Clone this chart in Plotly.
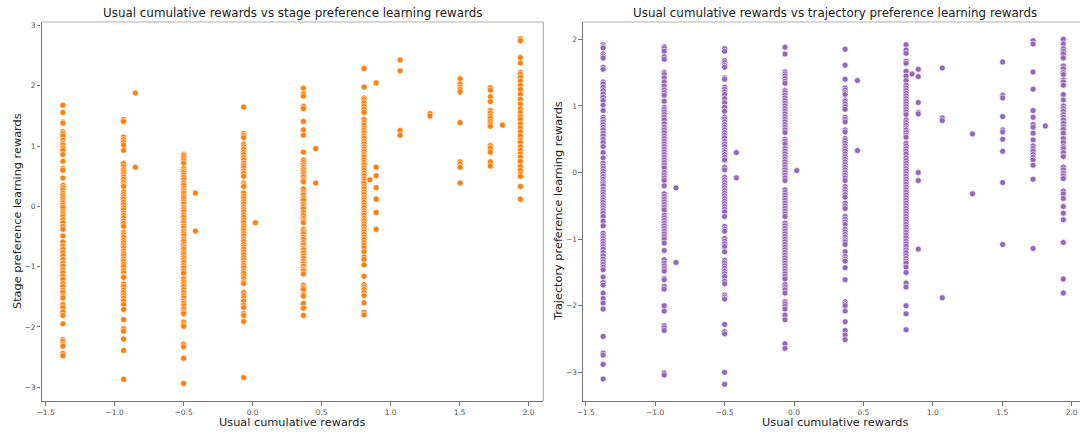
import plotly.graph_objects as go

# ---------------- data ----------------
# x levels of "Usual cumulative rewards"
x_levels = [-1.375, -0.935, -0.5, -0.065, 0.368, 0.807, 1.503, 1.722, 1.94]

# Stage preference learning rewards, one list per x level
stage_c1 = [1.68, 1.56, 1.40, 1.38, 1.24, 1.21, 1.17, 1.10, 1.05, 1.02, 0.97, 0.93, 0.86, 0.75, 0.63, 0.60, 0.47,
            0.35, 0.31, 0.27, 0.22, 0.18, 0.14, 0.10, 0.06, 0.02, -0.02, -0.09, -0.13, -0.17, -0.22, -0.27, -0.33,
            -0.38, -0.49, -0.59, -0.66, -0.71, -0.77, -0.82, -0.88, -0.94, -0.99, -1.05, -1.10, -1.16, -1.21,
            -1.28, -1.33, -1.39, -1.43, -1.49, -1.52, -1.63, -1.68, -1.75, -1.81, -1.95, -2.21, -2.24, -2.29,
            -2.32, -2.44, -2.48]
stage_c2 = [1.44, 1.41, 1.15, 1.11, 1.07, 1.02, 0.93, 0.71, 0.66, 0.61, 0.57, 0.53, 0.49, 0.45, 0.40, 0.36, 0.33,
            0.24, 0.20, 0.16, 0.12, 0.07, 0.03, -0.02, -0.06, -0.11, -0.15, -0.19, -0.24, -0.28, -0.33, -0.43,
            -0.47, -0.51, -0.56, -0.60, -0.65, -0.69, -0.74, -0.78, -0.82, -0.87, -0.91, -0.96, -1.00, -1.06,
            -1.10, -1.16, -1.18, -1.29, -1.33, -1.39, -1.43, -1.48, -1.52, -1.57, -1.63, -1.71, -1.88, -2.03,
            -2.07, -2.20, -2.39, -2.87]
stage_c3 = [0.86, 0.84, 0.80, 0.76, 0.72, 0.63, 0.59, 0.56, 0.52, 0.48, 0.44, 0.39, 0.35, 0.30, 0.26, 0.22, 0.17,
            0.13, 0.08, 0.04, -0.01, -0.05, -0.09, -0.14, -0.18, -0.23, -0.27, -0.32, -0.36, -0.41, -0.45, -0.49,
            -0.54, -0.58, -0.63, -0.67, -0.71, -0.76, -0.80, -0.85, -0.89, -0.93, -0.98, -1.02, -1.07, -1.11,
            -1.20, -1.25, -1.29, -1.33, -1.38, -1.43, -1.48, -1.52, -1.57, -1.61, -1.65, -1.70, -1.75, -1.78,
            -1.92, -1.96, -1.99, -2.29, -2.33, -2.52, -2.94]
stage_c4 = [1.65, 1.21, 1.18, 1.14, 1.03, 0.99, 0.95, 0.90, 0.86, 0.81, 0.77, 0.72, 0.68, 0.64, 0.59, 0.55, 0.50,
            0.39, 0.36, 0.33, 0.22, 0.17, 0.13, 0.08, 0.04, -0.01, -0.05, -0.09, -0.14, -0.18, -0.23, -0.27,
            -0.32, -0.36, -0.40, -0.45, -0.49, -0.54, -0.58, -0.63, -0.67, -0.71, -0.76, -0.80, -0.85, -0.89,
            -0.94, -0.98, -1.02, -1.07, -1.11, -1.16, -1.20, -1.25, -1.28, -1.43, -1.48, -1.52, -1.57, -1.64,
            -1.68, -1.78, -1.81, -1.91, -2.84]
stage_c5 = [1.96, 1.87, 1.83, 1.66, 1.62, 1.41, 1.27, 1.18, 0.90, 0.77, 0.73, 0.69, 0.65, 0.61, 0.57, 0.53, 0.49,
            0.44, 0.41, 0.29, 0.23, 0.19, 0.14, 0.10, 0.04, 0.00, -0.04, -0.10, -0.15, -0.20, -0.24, -0.27, -0.38,
            -0.42, -0.46, -0.51, -0.55, -0.60, -0.64, -0.69, -0.72, -0.77, -0.82, -0.86, -0.91, -0.95, -0.99,
            -1.04, -1.07, -1.12, -1.31, -1.35, -1.38, -1.46, -1.49, -1.61, -1.69, -1.81]
stage_c6 = [2.29, 1.98, 1.80, 1.77, 1.72, 1.66, 1.61, 1.56, 1.44, 1.39, 1.35, 1.30, 1.26, 1.22, 1.17, 1.13, 1.08,
            1.04, 0.99, 0.95, 0.91, 0.86, 0.82, 0.77, 0.73, 0.69, 0.64, 0.60, 0.55, 0.51, 0.46, 0.42, 0.38, 0.33,
            0.29, 0.24, 0.20, 0.15, 0.11, 0.07, 0.02, -0.02, -0.07, -0.11, -0.15, -0.20, -0.24, -0.29, -0.33,
            -0.38, -0.42, -0.46, -0.51, -0.55, -0.60, -0.64, -0.69, -0.75, -0.84, -0.88, -0.97, -1.16, -1.30,
            -1.34, -1.38, -1.43, -1.48, -1.60, -1.76, -1.80]
stage_c7 = [2.12, 2.03, 1.98, 1.94, 1.90, 1.39, 0.74, 0.70, 0.65, 0.39]
stage_c8 = [1.97, 1.93, 1.82, 1.74, 1.59, 1.55, 1.50, 1.46, 1.41, 1.37, 1.33, 1.01, 0.97, 0.90, 0.74, 0.67]
stage_c9 = [2.78, 2.75, 2.47, 2.38, 2.22, 2.19, 2.14, 2.08, 2.01, 1.94, 1.86, 1.78, 1.70, 1.62, 1.56, 1.49, 1.44,
            1.37, 1.30, 1.24, 1.17, 1.10, 1.06, 0.99, 0.93, 0.87, 0.82, 0.75, 0.66, 0.60, 0.54, 0.50, 0.33, 0.12]
stage_columns = [stage_c1, stage_c2, stage_c3, stage_c4, stage_c5, stage_c6, stage_c7, stage_c8, stage_c9]

# isolated points between the columns (x, stage y)
stage_extra_x = [-0.85, -0.85, -0.415, -0.415, 0.02, 0.457, 0.457, 0.85, 0.895, 0.895, 0.895, 0.895, 0.895, 0.895,
                 0.895, 0.895, 1.068, 1.068, 1.068, 1.068, 1.285, 1.285, 1.81]
stage_extra_y = [1.88, 0.65, 0.22, -0.41, -0.27, 0.96, 0.39, 0.44, 2.05, 0.65, 0.51, 0.31, 0.13, 0.12, -0.10, -0.38,
                 2.43, 2.25, 1.26, 1.18, 1.54, 1.50, 1.35]

# Trajectory preference learning rewards, one list per x level
traj_c1 = [1.92, 1.89, 1.87, 1.78, 1.75, 1.72, 1.58, 1.55, 1.36, 1.33, 1.28, 1.23, 1.18, 1.13, 1.08, 1.01, 0.93,
           0.83, 0.80, 0.76, 0.72, 0.68, 0.64, 0.59, 0.55, 0.50, 0.45, 0.39, 0.30, 0.22, 0.14, 0.10, 0.06, 0.02,
           -0.02, -0.06, -0.10, -0.14, -0.17, -0.20, -0.25, -0.29, -0.33, -0.37, -0.41, -0.45, -0.49, -0.53,
           -0.57, -0.61, -0.66, -0.73, -0.80, -0.91, -0.95, -0.99, -1.03, -1.07, -1.11, -1.15, -1.20, -1.25,
           -1.30, -1.34, -1.38, -1.42, -1.46, -1.57, -1.65, -1.69, -1.81, -1.89, -1.96, -2.05, -2.46, -2.71,
           -2.74, -2.88, -3.10]
traj_c2 = [1.89, 1.87, 1.82, 1.74, 1.70, 1.50, 1.47, 1.42, 1.36, 1.30, 1.24, 1.20, 1.16, 1.07, 0.98, 0.95, 0.91,
           0.87, 0.83, 0.79, 0.73, 0.68, 0.64, 0.60, 0.55, 0.51, 0.47, 0.43, 0.39, 0.35, 0.31, 0.27, 0.23, 0.19,
           0.15, 0.11, 0.07, 0.00, -0.04, -0.08, -0.12, -0.20, -0.32, -0.36, -0.40, -0.44, -0.48, -0.52, -0.56,
           -0.64, -0.68, -0.72, -0.76, -0.80, -0.84, -0.88, -0.92, -0.96, -1.00, -1.06, -1.17, -1.31, -1.36,
           -1.40, -1.44, -1.48, -1.59, -1.61, -1.71, -1.75, -2.00, -2.08, -2.30, -2.33, -2.37, -3.01, -3.04]
traj_c3 = [1.86, 1.82, 1.68, 1.65, 1.61, 1.58, 1.42, 1.40, 1.28, 1.25, 1.21, 1.17, 1.11, 1.05, 0.98, 0.92, 0.83,
           0.80, 0.76, 0.72, 0.68, 0.64, 0.60, 0.56, 0.52, 0.47, 0.43, 0.39, 0.34, 0.31, 0.27, 0.23, 0.19, 0.08,
           0.04, -0.07, -0.11, -0.15, -0.19, -0.23, -0.27, -0.31, -0.35, -0.39, -0.43, -0.47, -0.51, -0.55,
           -0.59, -0.66, -0.81, -0.85, -0.88, -0.99, -1.03, -1.07, -1.11, -1.19, -1.32, -1.36, -1.40, -1.44,
           -1.48, -1.52, -1.56, -1.63, -1.67, -1.84, -1.87, -1.90, -2.28, -2.39, -2.42, -3.00, -3.18]
traj_c4 = [1.88, 1.78, 1.51, 1.48, 1.45, 1.41, 1.37, 1.34, 1.23, 1.20, 1.16, 1.12, 1.08, 1.04, 1.00, 0.96, 0.92,
           0.88, 0.84, 0.80, 0.76, 0.72, 0.68, 0.64, 0.60, 0.50, 0.47, 0.43, 0.36, 0.32, 0.28, 0.24, 0.20, 0.16,
           0.12, 0.08, 0.04, 0.00, -0.04, -0.08, -0.12, -0.26, -0.30, -0.34, -0.38, -0.42, -0.46, -0.50, -0.54,
           -0.58, -0.62, -0.66, -0.76, -0.80, -0.84, -0.88, -0.92, -0.96, -1.00, -1.04, -1.08, -1.12, -1.16,
           -1.20, -1.24, -1.28, -1.32, -1.36, -1.40, -1.44, -1.48, -1.52, -1.56, -1.60, -1.68, -1.72, -1.76,
           -1.81, -1.94, -1.97, -2.01, -2.05, -2.14, -2.21, -2.57, -2.64]
traj_c5 = [1.85, 1.61, 1.40, 1.27, 1.24, 1.20, 1.17, 1.09, 1.07, 1.03, 0.99, 0.95, 0.83, 0.80, 0.76, 0.64, 0.61,
           0.51, 0.48, 0.44, 0.40, 0.36, 0.32, 0.28, 0.24, 0.20, 0.16, 0.12, 0.08, 0.04, 0.00, -0.04, -0.08,
           -0.12, -0.21, -0.25, -0.29, -0.33, -0.37, -0.46, -0.50, -0.54, -0.66, -0.70, -0.74, -0.78, -0.85,
           -0.89, -0.93, -0.97, -1.01, -1.04, -1.08, -1.19, -1.26, -1.30, -1.33, -1.43, -1.61, -1.94, -1.97,
           -2.00, -2.08, -2.24, -2.37, -2.44, -2.51]
traj_c6 = [1.92, 1.84, 1.79, 1.67, 1.64, 1.52, 1.45, 1.38, 1.31, 1.27, 1.23, 1.19, 1.15, 1.11, 1.07, 1.03, 0.99,
           0.95, 0.91, 0.87, 0.79, 0.75, 0.71, 0.67, 0.64, 0.60, 0.56, 0.53, 0.44, 0.40, 0.36, 0.32, 0.28, 0.22,
           0.18, 0.14, 0.10, 0.06, 0.02, -0.02, -0.06, -0.10, -0.14, -0.18, -0.22, -0.26, -0.30, -0.34, -0.38,
           -0.42, -0.46, -0.50, -0.54, -0.58, -0.62, -0.66, -0.70, -0.74, -0.78, -0.82, -0.86, -0.90, -0.94,
           -0.98, -1.03, -1.07, -1.11, -1.16, -1.20, -1.25, -1.29, -1.33, -1.36, -1.42, -1.50, -1.66, -1.72,
           -2.00, -2.12, -2.36]
traj_c7 = [1.66, 1.16, 1.12, 0.84, 0.64, 0.61, 0.50, 0.32, -0.15, -1.08]
traj_c8 = [1.98, 1.93, 1.51, 1.25, 0.93, 0.83, 0.72, 0.68, 0.59, 0.49, 0.40, 0.36, 0.32, 0.27, 0.23, 0.19, 0.11,
           -0.10, -1.14]
traj_c9 = [2.00, 1.93, 1.86, 1.82, 1.78, 1.72, 1.60, 1.56, 1.50, 1.47, 1.39, 1.36, 1.31, 1.17, 1.09, 1.00, 0.96,
           0.92, 0.87, 0.83, 0.79, 0.74, 0.69, 0.65, 0.59, 0.51, 0.45, 0.39, 0.36, 0.30, 0.24, 0.08, 0.04, -0.01,
           -0.05, -0.09, -0.28, -0.32, -0.39, -0.51, -0.61, -0.71, -1.05, -1.60, -1.81]
traj_columns = [traj_c1, traj_c2, traj_c3, traj_c4, traj_c5, traj_c6, traj_c7, traj_c8, traj_c9]

traj_extra_x = [-0.85, -0.85, -0.415, -0.415, 0.02, 0.457, 0.457, 0.85, 0.895, 0.895, 0.895, 0.895, 0.895, 0.895,
                0.895, 0.895, 1.068, 1.068, 1.068, 1.068, 1.285, 1.285, 1.81]
traj_extra_y = [-0.23, -1.35, 0.30, -0.08, 0.03, 1.38, 0.33, 1.48, 1.55, 1.44, 1.05, 0.90, 0.88, 0.00, -0.12,
                -1.15, 1.57, 0.82, 0.78, -1.88, 0.58, -0.32, 0.70]

x_ticks = [-1.5, -1.0, -0.5, 0.0, 0.5, 1.0, 1.5, 2.0]
stage_y_ticks = [-3, -2, -1, 0, 1, 2, 3]
traj_y_ticks = [-3, -2, -1, 0, 1, 2]

titles = ["Usual cumulative rewards vs stage preference learning rewards",
          "Usual cumulative rewards vs trajectory preference learning rewards"]
x_label = "Usual cumulative rewards"
y_labels = ["Stage preference learning rewards", "Trajectory preference learning rewards"]

# ---------------- build ----------------
def flatten(levels, columns, ex_x, ex_y):
    xs, ys = [], []
    for xv, col in zip(levels, columns):
        xs += [xv] * len(col)
        ys += col
    return xs + ex_x, ys + ex_y

sx, sy = flatten(x_levels, stage_columns, stage_extra_x, stage_extra_y)
tx, ty = flatten(x_levels, traj_columns, traj_extra_x, traj_extra_y)

W, H = 1080, 433
FONT = "DejaVu Sans, Liberation Sans, sans-serif"
LABEL_SIZE = 11.3
TITLE_SIZE = 11.9

fig = go.Figure()
marker_common = dict(size=6, line=dict(color="white", width=0.6))
fig.add_trace(go.Scatter(x=sx, y=sy, mode="markers", xaxis="x", yaxis="y",
                         marker=dict(color="#ff7f0e", **marker_common), showlegend=False))
fig.add_trace(go.Scatter(x=tx, y=ty, mode="markers", xaxis="x2", yaxis="y2",
                         marker=dict(color="#9467bd", **marker_common), showlegend=False))

# pixel geometry of the two axes boxes
L1, R1 = 41.5, 543.3
L2, R2 = 583, 1080
TOP, BOT = 22, 401
ydom = [1 - BOT / H, 1 - TOP / H]

axis_common = dict(showgrid=False, zeroline=False, showline=True, linecolor="#777777", linewidth=1.1,
                   ticks="outside", ticklen=3.5, tickwidth=0.8, tickcolor="#777777",
                   tickfont=dict(family=FONT, size=7.5, color="#555555"), automargin=False)

fig.update_layout(
    width=W, height=H, margin=dict(l=0, r=0, t=0, b=0),
    paper_bgcolor="white", plot_bgcolor="white",
    xaxis=dict(domain=[L1 / W, R1 / W], range=[-1.53, 2.106], tickvals=x_ticks, tickformat=".1f",
               anchor="y", **axis_common),
    yaxis=dict(domain=ydom, range=[-3.23, 3.06], tickvals=stage_y_ticks, anchor="x", **axis_common),
    xaxis2=dict(domain=[L2 / W, R2 / W], range=[-1.52, 2.06], tickvals=x_ticks, tickformat=".1f",
                anchor="y2", **axis_common),
    yaxis2=dict(domain=ydom, range=[-3.43, 2.26], tickvals=traj_y_ticks, anchor="x2", **axis_common),
)

# top / right frame lines (lighter, like the reference)
frame = dict(type="line", xref="paper", yref="paper", line=dict(color="#b0b0b0", width=1.2))
fig.add_shape(x0=L1 / W, x1=R1 / W, y0=ydom[1], y1=ydom[1], **frame)
fig.add_shape(x0=R1 / W, x1=R1 / W, y0=ydom[0], y1=ydom[1], **frame)
fig.add_shape(x0=L2 / W, x1=1, y0=ydom[1], y1=ydom[1], **frame)

# titles and axis labels
for i, (l, r) in enumerate([(L1, R1), (L2, R2 + 6)]):
    cx = (l + r) / 2 / W
    fig.add_annotation(text=titles[i], x=cx, y=1 - 13 / H, xref="paper", yref="paper",
                       showarrow=False, font=dict(family=FONT, size=TITLE_SIZE, color="#222222"),
                       xanchor="center", yanchor="middle")
    fig.add_annotation(text=x_label, x=cx, y=1 - 422 / H, xref="paper", yref="paper",
                       showarrow=False, font=dict(family=FONT, size=LABEL_SIZE, color="#222222"),
                       xanchor="center", yanchor="middle")
fig.add_annotation(text=y_labels[0], x=17 / W, y=1 - 211 / H, xref="paper", yref="paper", textangle=-90,
                   showarrow=False, font=dict(family=FONT, size=LABEL_SIZE, color="#222222"),
                   xanchor="center", yanchor="middle")
fig.add_annotation(text=y_labels[1], x=558 / W, y=1 - 211 / H, xref="paper", yref="paper", textangle=-90,
                   showarrow=False, font=dict(family=FONT, size=LABEL_SIZE, color="#222222"),
                   xanchor="center", yanchor="middle")

fig.write_html("out.html")
